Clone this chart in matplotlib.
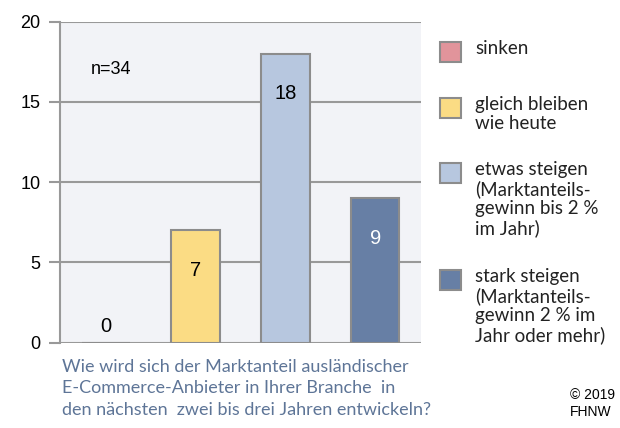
import matplotlib.pyplot as plt
from matplotlib.patches import Rectangle

# data
categories = ["sinken", "gleich bleiben\nwie heute",
              "etwas steigen\n(Marktanteils-\ngewinn bis 2 %\nim Jahr)",
              "stark steigen\n(Marktanteils-\ngewinn 2 % im\nJahr oder mehr)"]
values = [0, 7, 18, 9]
colors = ["#e1949b", "#fbdc84", "#b7c7df", "#677fa5"]
label_colors = ["black", "black", "black", "white"]
y_ticks = [0, 5, 10, 15, 20]
n_label = "n=34"
question = ("Wie wird sich der Marktanteil ausländischer\n"
            "E-Commerce-Anbieter in Ihrer Branche  in\n"
            "den nächsten  zwei bis drei Jahren entwickeln?")
credit = "© 2019\nFHNW"

W, H = 620, 428
fig = plt.figure(figsize=(W / 100, H / 100), dpi=100)
ax = fig.add_axes([60 / W, (H - 342.7) / H, (421 - 60) / W, (342.7 - 21.7) / H])
ax.set_facecolor("#f2f3f7")

x = list(range(len(values)))
ax.bar(x, values, width=0.54, color=colors, edgecolor="#8c8c8c",
       linewidth=1.5, zorder=3)
for xi, v, c in zip(x, values, label_colors):
    y = v - 2.5 if v > 0 else 1.0
    ax.text(xi, y, str(v), ha="center", va="center", fontsize=14.5,
            color=c, family="Liberation Sans", zorder=4)

ax.text(-0.17, 17, n_label, ha="left", va="center", fontsize=13,
        family="Liberation Sans")

ax.set_xlim(-0.51, 3.51)
ax.set_ylim(0, 20)
ax.set_yticks(y_ticks)
ax.set_xticks([])
ax.yaxis.grid(True, color="#999999", linewidth=1.5, zorder=0)
ax.tick_params(axis="y", length=8, width=1.5, color="#999999", pad=6,
               labelsize=13)
for lab in ax.get_yticklabels():
    lab.set_family("Liberation Sans")
for s in ["top", "right", "bottom"]:
    ax.spines[s].set_visible(False)
ax.spines["left"].set_color("#999999")
ax.spines["left"].set_linewidth(1.5)

# legend drawn by hand on the right
sq_tops = [41.7, 98, 163, 270]
for top, lab, c in zip(sq_tops, categories, colors):
    fig.patches.append(Rectangle((440 / W, (H - top - 20) / H), 21 / W, 20 / H,
                                 transform=fig.transFigure, facecolor=c,
                                 edgecolor="#8c8c8c", linewidth=1.5))
    fig.text(475 / W, (H - top + 2) / H, lab, ha="left", va="top",
             fontsize=13.5, family="Lato", color="#222222", linespacing=1.15)

fig.text(62 / W, (H - 359) / H, question, ha="left", va="top",
         fontsize=13, family="Lato", color="#5e7597", linespacing=1.42)
fig.text(570 / W, (H - 388) / H, credit, ha="left", va="top",
         fontsize=10, family="Liberation Sans", color="black", linespacing=1.25)

fig.savefig("out.png", dpi=100)
